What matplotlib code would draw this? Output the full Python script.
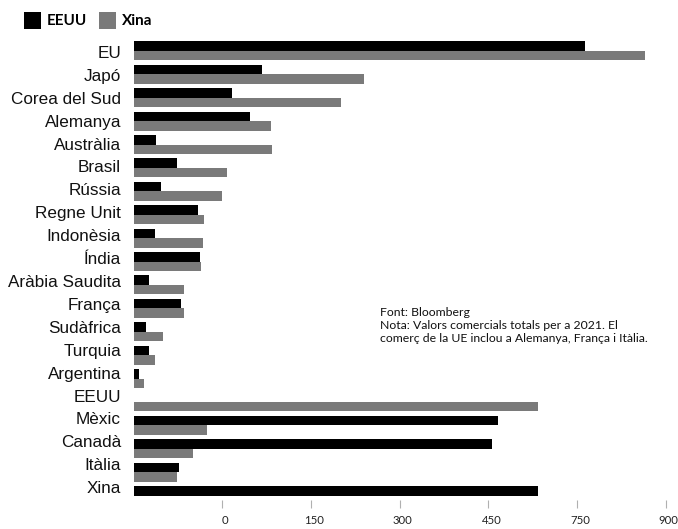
import matplotlib
matplotlib.use('Agg')
import matplotlib.pyplot as plt
import matplotlib.transforms as mtransforms
import numpy as np

# Comerç amb EEUU i amb Xina, milers de milions de dòlars (2021)
paisos = ['EU', 'Japó', 'Corea del Sud', 'Alemanya', 'Austràlia', 'Brasil',
          'Rússia', 'Regne Unit', 'Indonèsia', 'Índia', 'Aràbia Saudita',
          'França', 'Sudàfrica', 'Turquia', 'Argentina', 'EEUU', 'Mèxic',
          'Canadà', 'Itàlia', 'Xina']
eeuu = [764, 217, 167, 197, 38, 74, 47, 109, 36, 112, 26, 80, 21, 26, 9,
        0, 617, 606, 77, 684]
xina = [865, 390, 351, 233, 234, 158, 150, 119, 118, 114, 85, 85, 50, 36, 18,
        684, 124, 101, 74, 0]

tick_pos = [150, 300, 450, 600, 750, 900]
tick_txt = ['0', '150', '300', '450', '750', '900']

nota = ('Font: Bloomberg\n'
        'Nota: Valors comercials totals per a 2021. El\n'
        'comerç de la UE inclou a Alemanya, França i Itàlia.')

fig = plt.figure(figsize=(6.78, 5.29), dpi=100)
ax = fig.add_axes([133.5 / 678, 29 / 529, 538.1 / 678, 461.9 / 529])

y = np.arange(len(paisos))
h = 0.405
ax.barh(y - h / 2, eeuu, height=h, color='#000000', label='EEUU')
ax.barh(y + h / 2, xina, height=h, color='#7a7a7a', label='Xina')

ax.set_xlim(0, 910)
ax.set_ylim(19.19, -0.55)

# etiquetes de país
ax.set_yticks(y * 0.979 + 0.04)
ax.set_yticklabels(paisos, family='Liberation Sans', fontsize=12.3, color='#111111')
ax.tick_params(axis='y', length=0, pad=9)

ax.set_xticks(tick_pos)
ax.set_xticklabels(tick_txt, family='Lato', fontsize=8.2, color='#222222')
ax.tick_params(axis='x', length=6, width=0.8, color='#b0b0b0', pad=5)
shift = mtransforms.ScaledTranslation(3 / 100, 0, fig.dpi_scale_trans)
for lbl in ax.get_xticklabels():
    lbl.set_transform(lbl.get_transform() + shift)

for s in ax.spines.values():
    s.set_visible(False)

leg = ax.legend(loc='upper left', bbox_to_anchor=(24 / 678, 1 - 12 / 529),
                bbox_transform=fig.transFigure, ncol=2, frameon=False,
                borderpad=0, borderaxespad=0, handlelength=1.1,
                handleheight=1.3, handletextpad=0.4, columnspacing=0.8,
                prop={'family': 'Lato', 'weight': 'bold', 'size': 11})

fig.text(380 / 678, 1 - 307 / 529, nota, family='Lato', fontsize=8.8,
         va='top', ha='left', linespacing=1.2, color='#111111')

fig.savefig('out.png', dpi=100)
